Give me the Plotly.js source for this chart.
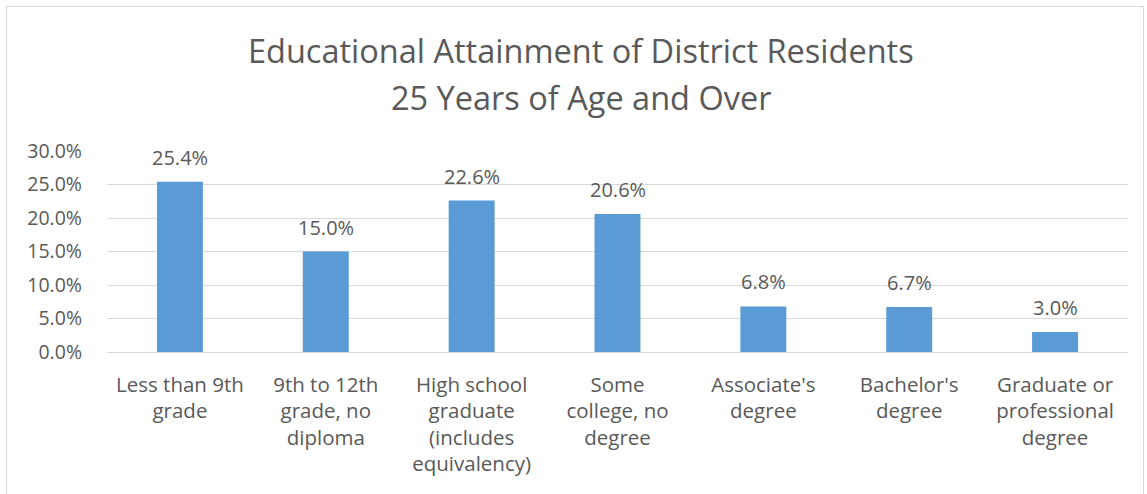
<!DOCTYPE html>
<html><head><meta charset="utf-8">
<script src="https://cdn.plot.ly/plotly-3.0.1.min.js"></script>
<style>
html,body{margin:0;padding:0;background:#fff;}
#wrap{position:relative;width:1147px;height:494px;}
#chart{width:1147px;height:494px;}
#frame{position:absolute;left:6px;top:6px;width:1136px;height:500px;border:1px solid #d9d9d9;pointer-events:none;}
</style></head>
<body>
<div id="wrap"><div id="chart"></div><div id="frame"></div></div>
<script>
const categories = [
  "Less than 9th<br>grade",
  "9th to 12th<br>grade, no<br>diploma",
  "High school<br>graduate<br>(includes<br>equivalency)",
  "Some<br>college, no<br>degree",
  "Associate's<br>degree",
  "Bachelor's<br>degree",
  "Graduate or<br>professional<br>degree"
];
const values = [25.4, 15.0, 22.6, 20.6, 6.8, 6.7, 3.0];
const yTicks = [0, 5, 10, 15, 20, 25, 30];
const titleLines = ["Educational Attainment of District Residents", "25 Years of Age and Over"];

const font = "Open Sans, sans-serif";
const grey = "#595959";

const trace = {
  type: "bar",
  x: categories,
  y: values,
  marker: {color: "#5b9bd5"},
  hoverinfo: "skip"
};

const annotations = values.map((v, i) => ({
  x: categories[i], y: v, xref: "x", yref: "y",
  text: v.toFixed(1) + "%",
  showarrow: false, yanchor: "bottom", yshift: 9,
  font: {family: font, size: 20, color: grey}
}));

const titleY = [1.502, 1.268];
titleLines.forEach((t, i) => annotations.push({
  x: 0.464, y: titleY[i], xref: "paper", yref: "paper",
  text: t, showarrow: false, xanchor: "center", yanchor: "middle",
  font: {family: font, size: 32.5, color: grey}
}));

const layout = {
  width: 1147, height: 494,
  margin: {l: 107, r: 19, t: 151, b: 142},
  paper_bgcolor: "#fff", plot_bgcolor: "#fff",
  bargap: 0.685,
  showlegend: false,
  xaxis: {
    type: "category",
    showgrid: false, zeroline: false, showline: false,
    ticks: "", ticklabelstandoff: 18,
    tickfont: {family: font, size: 20.5, color: grey}
  },
  yaxis: {
    range: [0, 30],
    tickvals: yTicks,
    ticktext: yTicks.map(t => t.toFixed(1) + "%"),
    showgrid: true, gridcolor: "#d9d9d9", gridwidth: 1,
    zeroline: true, zerolinecolor: "#d9d9d9",
    showline: false, ticks: "", ticklabelstandoff: 24,
    tickfont: {family: font, size: 19.5, color: grey}
  },
  annotations: annotations
};

Plotly.newPlot("chart", [trace], layout, {displayModeBar: false, staticPlot: true});
</script>
</body></html>
